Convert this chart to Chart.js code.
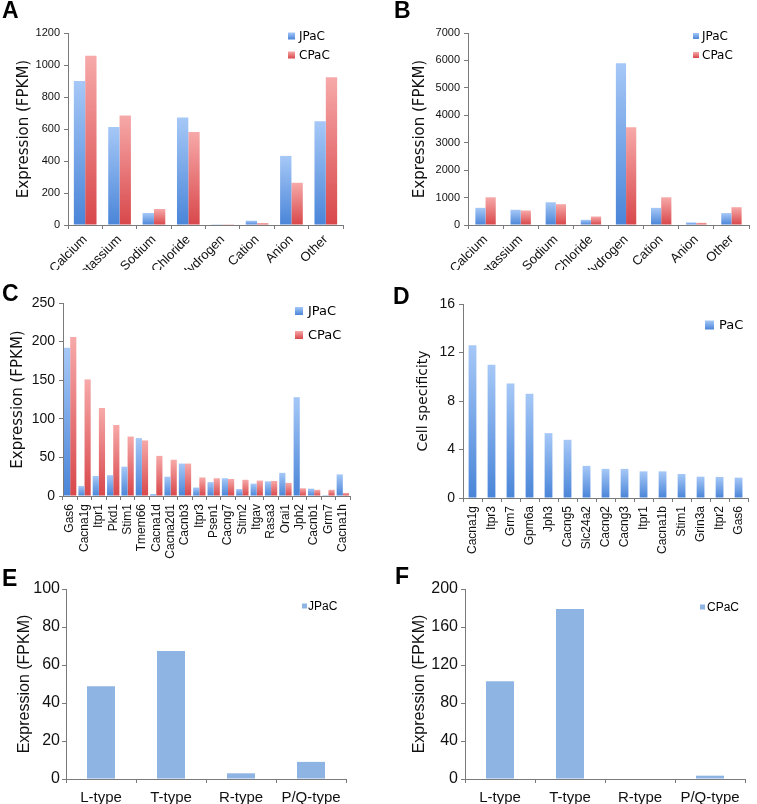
<!DOCTYPE html>
<html>
<head>
<meta charset="utf-8">
<script src="https://cdn.jsdelivr.net/npm/chart.js@4.4.1/dist/chart.umd.min.js"></script>
<style>
  body { margin: 0; background: #fff; }
  #page { position: relative; width: 757px; height: 804px; overflow: hidden; }
  .panel { position: absolute; }
  .letter { position: absolute; font: bold 23px "Liberation Sans", Arial, sans-serif; line-height: 23px; color: #000; z-index: 2; }
</style>
</head>
<body>
<div id="page">
  <div class="panel" style="left:0;top:0;width:378px;height:270px"><canvas id="chartA"></canvas></div>
  <div class="panel" style="left:378px;top:0;width:379px;height:270px"><canvas id="chartB"></canvas></div>
  <div class="panel" style="left:0;top:270px;width:378px;height:290px"><canvas id="chartC"></canvas></div>
  <div class="panel" style="left:378px;top:270px;width:379px;height:290px"><canvas id="chartD"></canvas></div>
  <div class="panel" style="left:0;top:560px;width:378px;height:244px"><canvas id="chartE"></canvas></div>
  <div class="panel" style="left:378px;top:560px;width:379px;height:244px"><canvas id="chartF"></canvas></div>
  <div class="letter" style="left:2px;top:-1px">A</div>
  <div class="letter" style="left:394px;top:-1px">B</div>
  <div class="letter" style="left:2px;top:282px">C</div>
  <div class="letter" style="left:393px;top:285px">D</div>
  <div class="letter" style="left:2px;top:567px">E</div>
  <div class="letter" style="left:395px;top:565px">F</div>
</div>
<script>
// ---- data ----
const ionClasses = ['Calcium', 'Potassium', 'Sodium', 'Chloride', 'Hydrogen', 'Cation', 'Anion', 'Other'];
const ionJPaC_A = [900, 612, 75, 672, 2, 27, 432, 648];
const ionCPaC_A = [1058, 685, 100, 581, 2, 12, 264, 924];
const ionJPaC_B = [625, 555, 830, 190, 5900, 625, 95, 435];
const ionCPaC_B = [1010, 530, 760, 310, 3560, 1010, 80, 650];

const geneC = ['Gas6', 'Cacna1g', 'Itpr1', 'Pkd1', 'Stim1', 'Tmem66', 'Cacna1d', 'Cacna2d1', 'Cacnb3', 'Itpr3',
  'Psen1', 'Cacng7', 'Stim2', 'Itgav', 'Rasa3', 'Orai1', 'Jph2', 'Cacnb1', 'Grm7', 'Cacna1h'];
const geneJPaC_C = [192, 13, 26, 27, 38, 75, 2.5, 25, 42, 11, 18, 23, 9, 16, 19, 30, 128, 9.5, 1, 28];
const geneCPaC_C = [206, 151, 114, 92, 77, 72, 52, 47, 42, 24, 23, 22, 21, 20, 19.5, 17, 10, 8, 8, 4];

const geneD = ['Cacna1g', 'Itpr3', 'Grm7', 'Gpm6a', 'Jph3', 'Cacng5', 'Slc24a2', 'Cacng2', 'Cacng3', 'Itpr1',
  'Cacna1b', 'Stim1', 'Grin3a', 'Itpr2', 'Gas6'];
const specificityD = [12.6, 11.0, 9.45, 8.6, 5.35, 4.8, 2.65, 2.4, 2.4, 2.2, 2.2, 1.98, 1.76, 1.74, 1.68];

const channelTypes = ['L-type', 'T-type', 'R-type', 'P/Q-type'];
const channelJPaC = [48.8, 67.4, 3.0, 9.0];
const channelCPaC = [103, 179, 0, 3.5];

// ---- styles ----
const BLUE_TOP = '#a6c8f7', BLUE_BOTTOM = '#4a85d8';
const RED_TOP = '#f7a9a9', RED_BOTTOM = '#d8474a';
const FLAT_BLUE = '#8eb4e3';
const AXIS_GRAY = '#7a7a7a';
const SANS = '"Liberation Sans", Arial, sans-serif';
const LUCIDA = '"DejaVu Sans", sans-serif';

// each bar gets its own top-to-base gradient
function barGradient(light, dark) {
  return function (ctx) {
    const chart = ctx.chart;
    if (!chart.chartArea || ctx.type !== 'data') return dark;
    const y = chart.scales.y;
    const top = y.getPixelForValue(ctx.raw);
    const base = y.getPixelForValue(0);
    if (base - top < 1) return dark;
    const g = chart.ctx.createLinearGradient(0, top, 0, base);
    g.addColorStop(0, light);
    g.addColorStop(1, dark);
    return g;
  };
}

// small legend drawn inside the plot, one row per dataset
const insideLegend = {
  id: 'insideLegend',
  afterDraw(chart, args, opts) {
    if (!opts.items) return;
    const ctx = chart.ctx;
    ctx.save();
    ctx.font = opts.font;
    ctx.textBaseline = 'middle';
    opts.items.forEach((item, i) => {
      const y = opts.y + i * opts.rowGap;
      const g = ctx.createLinearGradient(0, y - opts.box / 2, 0, y + opts.box / 2);
      g.addColorStop(0, item.light);
      g.addColorStop(1, item.dark);
      ctx.fillStyle = g;
      ctx.fillRect(opts.x, y - opts.box / 2, opts.box, opts.box);
      ctx.fillStyle = '#000';
      ctx.fillText(chart.data.datasets[i].label, opts.x + opts.box + opts.textGap, y + 1);
    });
    ctx.restore();
  }
};

function makeBarChart(id, p) {
  return new Chart(document.getElementById(id), {
    type: 'bar',
    data: { labels: p.labels, datasets: p.datasets },
    plugins: [insideLegend],
    options: {
      responsive: true,
      maintainAspectRatio: false,
      animation: false,
      layout: { padding: p.padding },
      datasets: { bar: { categoryPercentage: p.catPct, barPercentage: 1, borderWidth: 0 } },
      plugins: {
        legend: { display: false },
        tooltip: { enabled: false },
        insideLegend: p.legend
      },
      scales: {
        x: {
          grid: { drawOnChartArea: false, tickLength: 4, color: AXIS_GRAY, offset: true },
          border: { color: AXIS_GRAY },
          ticks: {
            autoSkip: false, minRotation: p.rotation, maxRotation: p.rotation,
            font: { family: SANS, size: p.xFont }, color: '#111', padding: p.xPad
          },
          afterFit(scale) { scale.height = p.xHeight; }
        },
        y: {
          min: 0, max: p.yMax,
          grid: { drawOnChartArea: false, tickLength: 4, color: AXIS_GRAY },
          border: { color: AXIS_GRAY },
          ticks: {
            stepSize: p.yStep, font: { family: SANS, size: p.yFont }, color: '#111', padding: p.yPad,
            callback: (v) => String(v)
          },
          title: {
            display: true, text: p.yTitle, color: '#111',
            font: { family: p.titleFamily, size: p.titleSize },
            padding: { top: p.titlePad, bottom: 0 }
          },
          afterFit(scale) { scale.width = p.yWidth; }
        }
      }
    }
  });
}

makeBarChart('chartA', {
  labels: ionClasses,
  datasets: [
    { label: 'JPaC', data: ionJPaC_A, backgroundColor: barGradient(BLUE_TOP, BLUE_BOTTOM) },
    { label: 'CPaC', data: ionCPaC_A, backgroundColor: barGradient(RED_TOP, RED_BOTTOM) }
  ],
  padding: { left: 0, top: 33, right: 35, bottom: 0 },
  catPct: 0.66, rotation: 45, xFont: 13, xPad: 3, xHeight: 45,
  yMax: 1200, yStep: 200, yFont: 11, yPad: 4, yWidth: 68,
  yTitle: 'Expression (FPKM)', titleFamily: LUCIDA, titleSize: 15, titlePad: 15,
  legend: { x: 288, y: 36, rowGap: 19, box: 7, textGap: 4, font: '12px ' + LUCIDA,
    items: [{ light: BLUE_TOP, dark: BLUE_BOTTOM }, { light: RED_TOP, dark: RED_BOTTOM }] }
});

makeBarChart('chartB', {
  labels: ionClasses,
  datasets: [
    { label: 'JPaC', data: ionJPaC_B, backgroundColor: barGradient(BLUE_TOP, BLUE_BOTTOM) },
    { label: 'CPaC', data: ionCPaC_B, backgroundColor: barGradient(RED_TOP, RED_BOTTOM) }
  ],
  padding: { left: 0, top: 33, right: 8, bottom: 0 },
  catPct: 0.58, rotation: 45, xFont: 13, xPad: 3, xHeight: 45,
  yMax: 7000, yStep: 1000, yFont: 11, yPad: 4, yWidth: 90,
  yTitle: 'Expression (FPKM)', titleFamily: LUCIDA, titleSize: 15, titlePad: 33,
  legend: { x: 315, y: 36, rowGap: 19, box: 6, textGap: 3, font: '12px ' + LUCIDA,
    items: [{ light: BLUE_TOP, dark: BLUE_BOTTOM }, { light: RED_TOP, dark: RED_BOTTOM }] }
});

makeBarChart('chartC', {
  labels: geneC,
  datasets: [
    { label: 'JPaC', data: geneJPaC_C, backgroundColor: barGradient(BLUE_TOP, BLUE_BOTTOM) },
    { label: 'CPaC', data: geneCPaC_C, backgroundColor: barGradient(RED_TOP, RED_BOTTOM) }
  ],
  padding: { left: 0, top: 33, right: 28, bottom: 0 },
  catPct: 0.86, rotation: 90, xFont: 12, xPad: 4, xHeight: 64,
  yMax: 250, yStep: 50, yFont: 14, yPad: 4, yWidth: 63,
  yTitle: 'Expression (FPKM)', titleFamily: LUCIDA, titleSize: 15, titlePad: 9,
  legend: { x: 295, y: 41, rowGap: 24, box: 8, textGap: 5, font: '13px ' + LUCIDA,
    items: [{ light: BLUE_TOP, dark: BLUE_BOTTOM }, { light: RED_TOP, dark: RED_BOTTOM }] }
});

makeBarChart('chartD', {
  labels: geneD,
  datasets: [
    { label: 'PaC', data: specificityD, backgroundColor: barGradient(BLUE_TOP, BLUE_BOTTOM) }
  ],
  padding: { left: 0, top: 34, right: 1, bottom: 0 },
  catPct: 0.41, rotation: 90, xFont: 12, xPad: 4, xHeight: 62,
  yMax: 16, yStep: 4, yFont: 14, yPad: 4, yWidth: 85,
  yTitle: 'Cell specificity', titleFamily: LUCIDA, titleSize: 14, titlePad: 37,
  legend: { x: 327, y: 55, rowGap: 24, box: 9, textGap: 5, font: '13px ' + LUCIDA,
    items: [{ light: BLUE_TOP, dark: BLUE_BOTTOM }] }
});

makeBarChart('chartE', {
  labels: channelTypes,
  datasets: [
    { label: 'JPaC', data: channelJPaC, backgroundColor: FLAT_BLUE }
  ],
  padding: { left: 0, top: 29, right: 32, bottom: 0 },
  catPct: 0.4, rotation: 0, xFont: 15, xPad: 6, xHeight: 25,
  yMax: 100, yStep: 20, yFont: 16, yPad: 2, yWidth: 66,
  yTitle: 'Expression (FPKM)', titleFamily: SANS, titleSize: 16, titlePad: 15,
  legend: { x: 302, y: 46, rowGap: 20, box: 5, textGap: 1, font: '12px ' + SANS,
    items: [{ light: FLAT_BLUE, dark: FLAT_BLUE }] }
});

makeBarChart('chartF', {
  labels: channelTypes,
  datasets: [
    { label: 'CPaC', data: channelCPaC, backgroundColor: FLAT_BLUE }
  ],
  padding: { left: 0, top: 29, right: 12, bottom: 0 },
  catPct: 0.4, rotation: 0, xFont: 15, xPad: 6, xHeight: 25,
  yMax: 200, yStep: 40, yFont: 16, yPad: 3, yWidth: 87,
  yTitle: 'Expression (FPKM)', titleFamily: SANS, titleSize: 16, titlePad: 32,
  legend: { x: 322, y: 47, rowGap: 20, box: 5, textGap: 2, font: '12px ' + SANS,
    items: [{ light: FLAT_BLUE, dark: FLAT_BLUE }] }
});
</script>
</body>
</html>
